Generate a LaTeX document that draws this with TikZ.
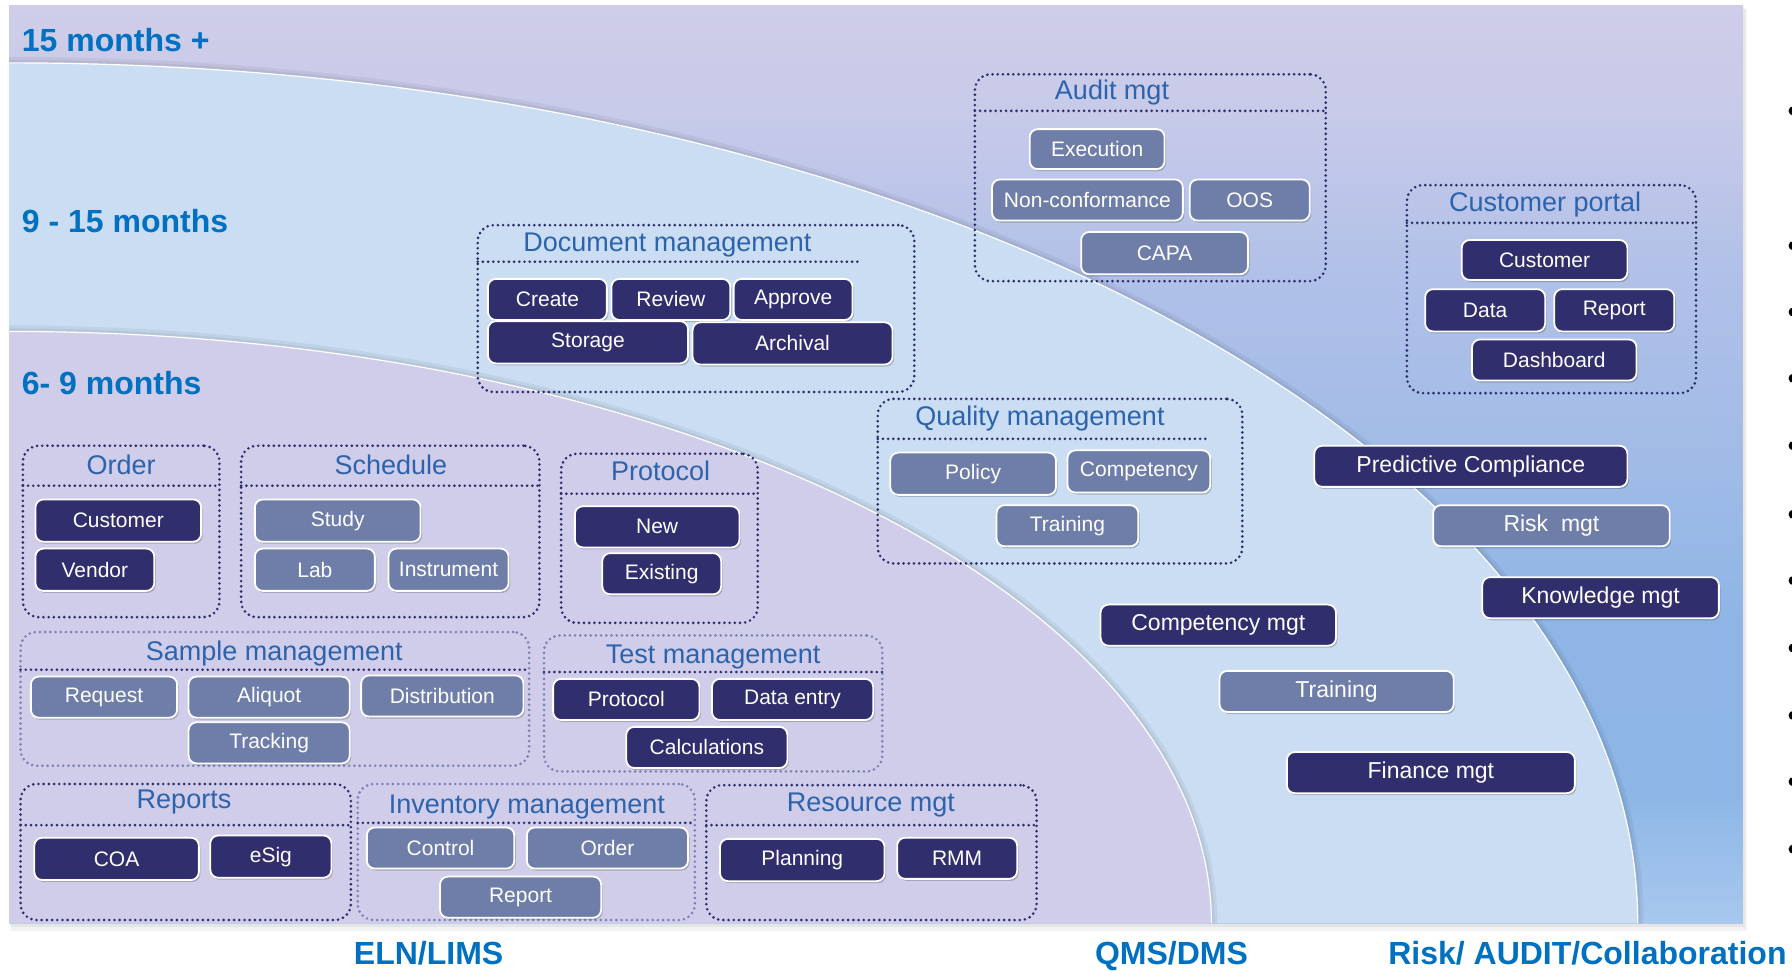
\documentclass[tikz,border=0pt]{standalone}
\usepackage{fontspec}
\setmainfont{Liberation Sans}
\usetikzlibrary{fit,shadows}
\definecolor{navy}{HTML}{312E6E}
\definecolor{slate}{HTML}{6E7EA8}
\definecolor{ttl}{HTML}{2C63AC}
\definecolor{lbl}{HTML}{0070C0}
\definecolor{midblue}{HTML}{CADDF2}
\definecolor{lav}{HTML}{CFCDE9}
\definecolor{dotc}{HTML}{2B2D6B}
\definecolor{dotl}{HTML}{7A82B4}
\definecolor{oa}{HTML}{A8C8EE}
\definecolor{ob}{HTML}{8DB6E6}
\definecolor{oc}{HTML}{8EB5E5}
\definecolor{od}{HTML}{A0BBE6}
\definecolor{oe}{HTML}{B0C0E8}
\definecolor{of}{HTML}{C7CAE9}
\definecolor{og}{HTML}{CFCDE9}
\pgfdeclareverticalshading{outershade}{100bp}{color(0bp)=(oa); color(25bp)=(oa); color(32bp)=(ob); color(41bp)=(oc); color(50bp)=(od); color(60bp)=(oe); color(69bp)=(of); color(75bp)=(og); color(100bp)=(og)}
\newcommand\btn[7]{\node[#2, fit={(#3,#4) (#5,#6)}] (#1) {};
  \node[#2txt] (#1-l) at (#1.center) {#7};}
\newcommand\grpbox[6]{\node[#2, fit={(#3,#4) (#5,#6)}] (#1) {};}
\begin{document}
\begin{tikzpicture}[x=1.1429pt,y=-1.1429pt,
  btn/.style={draw=white, line width=1.8pt, rounded corners=8pt, inner sep=0pt,
    drop shadow={shadow xshift=1.5pt, shadow yshift=-2pt, opacity=0.2, fill=black}},
  dbtn/.style={btn, fill=navy},
  lbtn/.style={btn, fill=slate},
  bigd/.style={dbtn},
  bigl/.style={lbtn},
  dbtntxt/.style={text=white, inner sep=0pt, font=\fontsize{21}{25}\selectfont},
  lbtntxt/.style={dbtntxt},
  bigdtxt/.style={text=white, inner sep=0pt, font=\fontsize{23}{27}\selectfont},
  bigltxt/.style={bigdtxt},
  grp/.style={draw=dotc, line width=2.9pt, dash pattern=on 0pt off 5.2pt, line cap=round, rounded corners=16pt, inner sep=0pt},
  grpl/.style={grp, draw=dotl},
  hdr/.style={draw=dotc, line width=2.9pt, dash pattern=on 0pt off 5.2pt, line cap=round},
  gtitle/.style={text=ttl, font=\fontsize{27}{32}\selectfont, inner sep=0pt},
  era/.style={text=lbl, font=\bfseries\fontsize{32}{38}\selectfont, inner sep=0pt, anchor=base west},
  sys/.style={text=lbl, font=\bfseries\fontsize{32}{38}\selectfont, inner sep=0pt, anchor=base},
  edge/.style={draw=white, line width=1.2pt}]
\useasboundingbox (0,0) rectangle (1568,849);
\fill[white] (0,0) rectangle (1568,849);
% panel shadow
\fill[black, opacity=0.05] (10,8) rectangle (1529,815);
\fill[black, opacity=0.05] (9,6) rectangle (1527,811);
% outer region
\shade[shading=outershade] (8,5) rectangle (1525,808);
% middle region
\draw[black, opacity=0.05, line width=12pt] (8,55) .. controls (795,55) and (1433,392) .. (1433,808);
\draw[black, opacity=0.05, line width=6pt] (8,55) .. controls (795,55) and (1433,392) .. (1433,808);
\fill[midblue] (8,55) .. controls (795,55) and (1433,392) .. (1433,808) -- (8,808) -- cycle;
\draw[edge] (8,55) .. controls (795,55) and (1433,392) .. (1433,808);
% inner region
\draw[black, opacity=0.05, line width=12pt] (8,290) .. controls (589,290) and (1060,522) .. (1060,808);
\draw[black, opacity=0.05, line width=6pt] (8,290) .. controls (589,290) and (1060,522) .. (1060,808);
\fill[lav] (8,290) .. controls (589,290) and (1060,522) .. (1060,808) -- (8,808) -- cycle;
\draw[edge] (8,290) .. controls (589,290) and (1060,522) .. (1060,808);

% era labels
\node[era] (e15) at (19,45) {15 months +};
\node[era] (e9) at (19,203) {9 - 15 months};
\node[era] (e6) at (19,345) {6- 9 months};

% ---- groups ----
\grpbox{order}{grp}{20}{390}{192}{540}
\draw[hdr] (20,425) -- (192,425);
\node[gtitle] (order-t) at (106,407) {Order};
\btn{o-cust}{dbtn}{31}{437}{176}{474}{Customer}
\btn{o-vend}{dbtn}{31}{480}{135}{517}{Vendor}

\grpbox{sched}{grp}{211}{390}{472}{540}
\draw[hdr] (211,425) -- (472,425);
\node[gtitle] (sched-t) at (342,407) {Schedule};
\btn{s-study}{lbtn}{223}{437}{368}{474}{Study}
\btn{s-lab}{lbtn}{223}{480}{328}{517}{Lab}
\btn{s-inst}{lbtn}{340}{480}{445}{517}{Instrument}

\grpbox{prot}{grp}{491}{397}{663}{545}
\draw[hdr] (491,432) -- (663,432);
\node[gtitle] (prot-t) at (578,412) {Protocol};
\btn{p-new}{dbtn}{503}{443}{647}{479}{New}
\btn{p-exist}{dbtn}{527}{484}{631}{520}{Existing}

\grpbox{sample}{grpl}{18}{553}{463}{670}
\draw[hdr] (18,586) -- (463,586);
\node[gtitle] (sample-t) at (240,572) {Sample management};
\btn{sm-req}{lbtn}{27}{592}{155}{628}{Request}
\btn{sm-ali}{lbtn}{165}{592}{306}{628}{Aliquot}
\btn{sm-dist}{lbtn}{316}{591}{458}{627}{Distribution}
\btn{sm-track}{lbtn}{165}{632}{306}{668}{Tracking}

\grpbox{test}{grpl}{476}{556}{772}{675}
\draw[hdr] (476,588) -- (772,588);
\node[gtitle] (test-t) at (624,575) {Test management};
\btn{t-prot}{dbtn}{484}{594}{612}{630}{Protocol}
\btn{t-data}{dbtn}{623}{594}{764}{630}{Data entry}
\btn{t-calc}{dbtn}{548}{636}{689}{672}{Calculations}

\grpbox{reports}{grp}{18}{686}{307}{805}
\draw[hdr] (18,722) -- (307,722);
\node[gtitle] (reports-t) at (161,702) {Reports};
\btn{r-coa}{dbtn}{30}{733}{174}{770}{COA}
\btn{r-esig}{dbtn}{184}{731}{290}{768}{eSig}

\grpbox{inv}{grpl}{313}{686}{608}{805}
\draw[hdr] (313,720) -- (608,720);
\node[gtitle] (inv-t) at (461,706) {Inventory management};
\btn{i-ctrl}{lbtn}{321}{724}{450}{760}{Control}
\btn{i-order}{lbtn}{461}{724}{602}{760}{Order}
\btn{i-rep}{lbtn}{385}{767}{526}{803}{Report}

\grpbox{res}{grp}{618}{687}{907}{805}
\draw[hdr] (618,722) -- (907,722);
\node[gtitle] (res-t) at (762,704) {Resource mgt};
\btn{re-plan}{dbtn}{630}{734}{774}{771}{Planning}
\btn{re-rmm}{dbtn}{785}{733}{890}{769}{RMM}

\grpbox{doc}{grp}{418}{197}{800}{343}
\draw[hdr] (418,229) -- (752,229);
\node[gtitle] (doc-t) at (584,214) {Document management};
\btn{d-create}{dbtn}{427}{244}{531}{280}{Create}
\btn{d-review}{dbtn}{535}{244}{639}{280}{Review}
\btn{d-approve}{dbtn}{642}{244}{746}{280}{Approve}
\btn{d-storage}{dbtn}{427}{281}{602}{318}{Storage}
\btn{d-archival}{dbtn}{606}{282}{781}{319}{Archival}

\grpbox{audit}{grp}{853}{65}{1160}{246}
\draw[hdr] (853,97) -- (1160,97);
\node[gtitle] (audit-t) at (973,81) {Audit mgt};
\btn{a-exec}{lbtn}{901}{113}{1019}{148}{Execution}
\btn{a-nc}{lbtn}{868}{157}{1035}{193}{Non-conformance}
\btn{a-oos}{lbtn}{1041}{157}{1146}{193}{OOS}
\btn{a-capa}{lbtn}{946}{203}{1092}{240}{CAPA}

\grpbox{portal}{grp}{1231}{162}{1484}{344}
\draw[hdr] (1231,195) -- (1484,195);
\node[gtitle] (portal-t) at (1352,179) {Customer portal};
\btn{c-cust}{dbtn}{1279}{210}{1424}{245}{Customer}
\btn{c-data}{dbtn}{1247}{253}{1352}{290}{Data}
\btn{c-rep}{dbtn}{1360}{253}{1465}{290}{Report}
\btn{c-dash}{dbtn}{1288}{297}{1432}{333}{Dashboard}

\grpbox{quality}{grp}{768}{349}{1087}{493}
\draw[hdr] (768,384) -- (1055,384);
\node[gtitle] (quality-t) at (910,366) {Quality management};
\btn{q-pol}{lbtn}{779}{396}{924}{433}{Policy}
\btn{q-comp}{lbtn}{934}{394}{1059}{431}{Competency}
\btn{q-train}{lbtn}{872}{442}{996}{478}{Training}

% free buttons
\btn{predict}{bigd}{1150}{390}{1424}{426}{Predictive Compliance}
\btn{risk}{bigl}{1254}{442}{1461}{478}{Risk\ \ mgt}
\btn{know}{bigd}{1297}{505}{1504}{541}{Knowledge mgt}
\btn{compmgt}{bigd}{963}{529}{1169}{565}{Competency mgt}
\btn{train}{bigl}{1067}{587}{1272}{623}{Training}
\btn{finance}{bigd}{1126}{658}{1378}{694}{Finance mgt}

% system labels
\node[sys] (eln) at (375,844) {ELN/LIMS};
\node[sys] (qms) at (1025,844) {QMS/DMS};
\node[sys] (risklbl) at (1389,844) {Risk/ AUDIT/Collaboration};

% bullets (cut at the right edge)
\foreach \by in {97,215,273,331,390,450,508,567,626,684,743}
  \fill[black] (1569,\by) circle (4.6pt);
\end{tikzpicture}
\end{document}
